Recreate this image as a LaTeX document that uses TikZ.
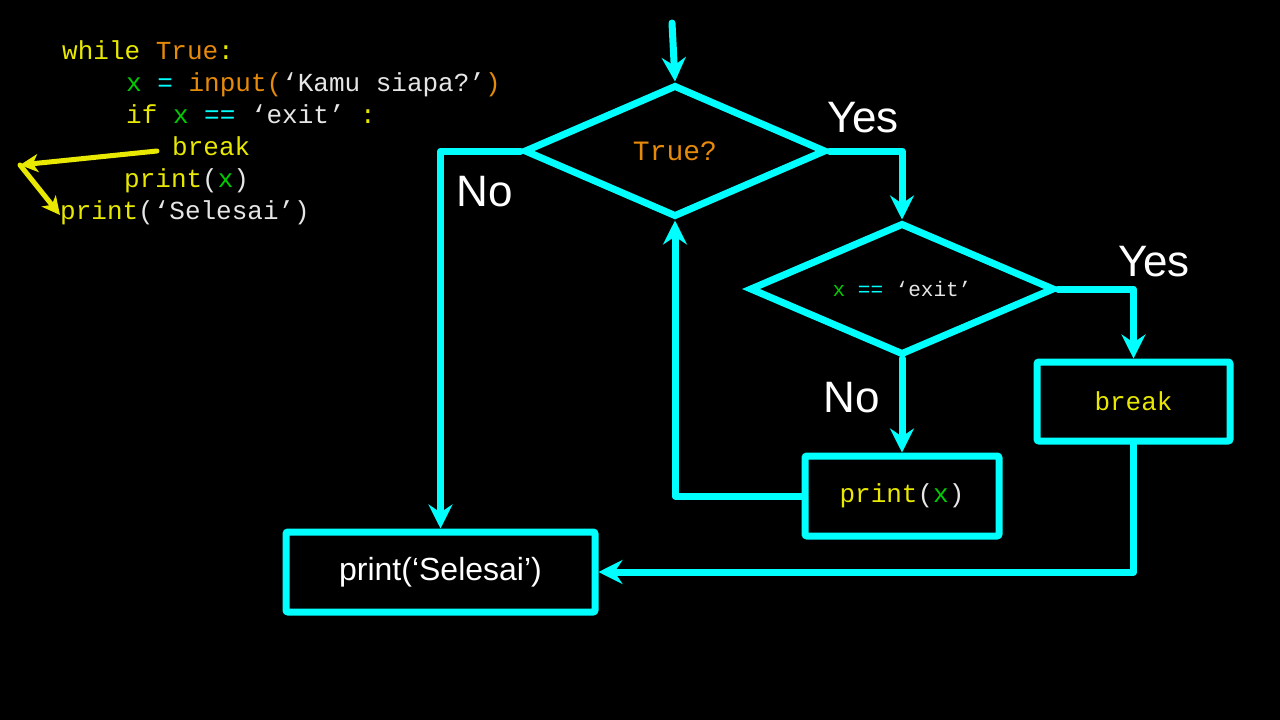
\documentclass[tikz,border=0pt]{standalone}
\usepackage{fontspec}
\setmainfont{Liberation Sans}
\newfontfamily\codefont{Liberation Mono}
\usetikzlibrary{arrows.meta,shapes.geometric,positioning}
\definecolor{flowcyan}{RGB}{0,255,255}
\definecolor{kwyellow}{RGB}{232,232,0}
\definecolor{kworange}{RGB}{230,138,10}
\definecolor{vargreen}{RGB}{0,204,0}
\definecolor{strwhite}{RGB}{230,230,230}
\newcommand{\kw}[1]{\textcolor{kwyellow}{#1}}
\newcommand{\kwo}[1]{\textcolor{kworange}{#1}}
\newcommand{\var}[1]{\textcolor{vargreen}{#1}}
\newcommand{\op}[1]{\textcolor{flowcyan}{#1}}
\newcommand{\str}[1]{\textcolor{strwhite}{#1}}

\begin{document}
\begin{tikzpicture}[x=1pt, y=-1pt,
    flow/.style={draw=flowcyan, line width=7pt, line cap=round, line join=round, -{Stealth[length=24pt, width=24pt, inset=8pt]}},
    decision/.style={diamond, draw=flowcyan, line width=7pt, fill=black, inner sep=0pt, shape aspect=2.3},
    process/.style={rectangle, draw=flowcyan, line width=7pt, rounded corners=2pt, inner sep=0pt},
    answer/.style={text=white, font=\fontsize{44}{44}\selectfont, inner sep=0pt},
    codeline/.style={anchor=base west, inner sep=0pt, font=\codefont\fontsize{26}{32}\selectfont},
    hint/.style={draw=kwyellow, line width=5pt, line cap=round, -{Stealth[length=18pt, width=18pt, inset=5pt]}}]
  \fill[black] (0,0) rectangle (1280,720);
  \useasboundingbox (0,0) rectangle (1280,720);

  % code
  \node[codeline] (l1) at (62,59) {\kw{while} \kwo{True}\kw{:}};
  \node[codeline] (l2) at (126,91) {\var{x} \op{=} \kwo{input(}\str{‘Kamu siapa?’}\kwo{)}};
  \node[codeline] (l3) at (126,123) {\kw{if} \var{x} \op{==} \str{‘exit’} \kw{:}};
  \node[codeline] (l4) at (172,155) {\kw{break}};
  \node[codeline] (l5) at (124,187) {\kw{print}\str{(}\var{x}\str{)}};
  \node[codeline] (l6) at (60,219) {\kw{print}\str{(‘Selesai’)}};

  \coordinate (hbreak) at (157,151);
  \coordinate (hcorner) at (20,165);
  \coordinate (hend) at (60,215);
  \draw[hint] (hbreak) -- (hcorner);
  \draw[hint] (hcorner) -- (hend);

  % flowchart
  \coordinate (start) at (672,23);
  \node[decision, minimum width=302pt, minimum height=132pt] (q1) at (675,151) {\codefont\fontsize{28}{28}\selectfont\kwo{True?}};
  \node[decision, minimum width=305pt, minimum height=132pt] (q2) at (902,289) {\codefont\fontsize{21}{21}\selectfont\var{x} \op{==} \str{‘exit’}};
  \node[process, minimum width=193pt, minimum height=79pt] (brk) at (1133.5,401.5) {\codefont\fontsize{26}{26}\selectfont\kw{break}};
  \node[process, minimum width=194pt, minimum height=80pt] (px) at (902,496) {\codefont\fontsize{26}{26}\selectfont\kw{print}\str{(}\var{x}\str{)}};
  \node[process, minimum width=309pt, minimum height=80pt] (done) at (440.5,572) {\fontsize{32}{32}\selectfont\textcolor{white}{print(‘Selesai’)}};

  \node[answer] (yes1) at (863,118) {Yes};
  \node[answer] (no1) at (485,192) {No};
  \node[answer] (yes2) at (1154,262) {Yes};
  \node[answer] (no2) at (852,398) {No};

  \draw[flow] (start) -- (q1.north);
  \draw[flow] (q1.east) -| (q2.north);
  \draw[flow] (q1.west) -| (done.north);
  \draw[flow] (q2.east) -| (brk.north);
  \draw[flow] (q2.south) -- (px.north);
  \draw[flow] (px.west) -| (q1.south);
  \draw[flow] (brk.south) |- (done.east);
\end{tikzpicture}
\end{document}
